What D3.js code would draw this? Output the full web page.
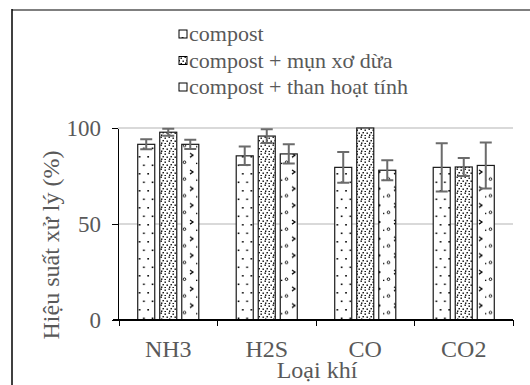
<!DOCTYPE html>
<html>
<head>
<meta charset="utf-8">
<title>hieu-suat</title>
<script src="https://cdn.jsdelivr.net/npm/d3@7"></script>
<style>
  body { margin: 0; background: #fff; }
  svg { display: block; }
  .axis path, .axis line { stroke: #000; shape-rendering: crispEdges; }
  .grid line { stroke: #d9d9d9; stroke-width: 1.5px; shape-rendering: crispEdges; }
  .err { stroke: #6b6b6b; stroke-width: 2px; fill: none; }
  .bar { stroke: #1a1a1a; stroke-width: 1.2px; }
</style>
</head>
<body>
<svg width="530" height="385"></svg>
<script>
// data
var categories = ["NH3", "H2S", "CO", "CO2"];
var seriesNames = ["compost", "compost + mụn xơ dừa", "compost + than hoạt tính"];
var compostVals = [91.5, 85.5, 79.5, 79.5];
var compostErr = [2.6, 4.8, 8.0, 12.6];
var munVals = [97.8, 95.8, 100, 79.7];
var munErr = [1.8, 3.6, 0, 4.7];
var thanVals = [91.5, 86.5, 78, 80.5];
var thanErr = [2.4, 5.0, 5.2, 12.0];
var yTicks = [0, 50, 100];

var allVals = [compostVals, munVals, thanVals];
var allErr = [compostErr, munErr, thanErr];
var patIds = ["p-compost", "p-mun", "p-than"];
var serif = "'Liberation Serif', 'Times New Roman', Times, serif";

var svg = d3.select("svg");

// frame lines
svg.append("line").attr("x1", 12).attr("x2", 530).attr("y1", 10).attr("y2", 10)
  .attr("stroke", "#7f7f7f").attr("stroke-width", 2);
svg.append("line").attr("x1", 12).attr("x2", 12).attr("y1", 9).attr("y2", 385)
  .attr("stroke", "#000").attr("stroke-width", 1.5);

// patterns
var defs = svg.append("defs");
var p1 = defs.append("pattern").attr("id", "p-compost").attr("patternUnits", "userSpaceOnUse")
  .attr("width", 8.6).attr("height", 17);
p1.append("rect").attr("width", 8.6).attr("height", 17).attr("fill", "#fff");
[[1.2, 3], [5.5, 11.5]].forEach(function(d) {
  p1.append("rect").attr("x", d[0]).attr("y", d[1]).attr("width", 1.6).attr("height", 1.6).attr("fill", "#000");
});

var p2 = defs.append("pattern").attr("id", "p-mun").attr("patternUnits", "userSpaceOnUse")
  .attr("width", 8).attr("height", 8);
p2.append("rect").attr("width", 8).attr("height", 8).attr("fill", "#fff");
[[0.5, 0.5], [4.5, 1.5], [2.5, 4], [6.5, 4.5], [1, 6.5], [4.5, 7]].forEach(function(d) {
  p2.append("rect").attr("x", d[0]).attr("y", d[1]).attr("width", 1.4).attr("height", 1.4).attr("fill", "#000");
});

var p3 = defs.append("pattern").attr("id", "p-than").attr("patternUnits", "userSpaceOnUse")
  .attr("width", 17).attr("height", 16.7);
p3.append("rect").attr("width", 17).attr("height", 16.7).attr("fill", "#fff");
p3.append("path").attr("d", "M3,3 L6,5 L3,7").attr("fill", "none").attr("stroke", "#000").attr("stroke-width", 1.2);
p3.append("circle").attr("cx", 14.5).attr("cy", 12).attr("r", 1.3).attr("fill", "none").attr("stroke", "#000").attr("stroke-width", 0.9);
p3.append("rect").attr("x", 9).attr("y", 12.5).attr("width", 1.3).attr("height", 1.3).attr("fill", "#000");

// scales
var x = d3.scaleBand().domain(categories).range([119, 513]).paddingInner(0).paddingOuter(0);
var xs = d3.scaleBand().domain(d3.range(3)).range([0, x.bandwidth()])
  .paddingInner(0.227).paddingOuter(0.85);
var y = d3.scaleLinear().domain([0, 100]).range([320, 128]);

// grid
svg.append("g").attr("class", "grid")
  .selectAll("line").data(yTicks.filter(function(d) { return d > 0; })).enter()
  .append("line")
  .attr("x1", 118).attr("x2", 513)
  .attr("y1", function(d) { return y(d); }).attr("y2", function(d) { return y(d); });

// bars
var series = svg.append("g");
allVals.forEach(function(vals, s) {
  var g = series.append("g");
  g.selectAll("rect").data(vals).enter().append("rect")
    .attr("class", "bar")
    .attr("x", function(d, i) { return x(categories[i]) + xs(s); })
    .attr("y", function(d) { return y(d); })
    .attr("width", xs.bandwidth())
    .attr("height", function(d) { return y(0) - y(d); })
    .attr("fill", "url(#" + patIds[s] + ")");
});

// error bars
allVals.forEach(function(vals, s) {
  var eg = svg.append("g").attr("class", "err");
  vals.forEach(function(v, i) {
    var e = allErr[s][i];
    if (!e) return;
    var cx = x(categories[i]) + xs(s) + xs.bandwidth() / 2;
    eg.append("path").attr("d",
      "M" + cx + "," + y(v + e) + "V" + y(v - e) +
      "M" + (cx - 6) + "," + y(v + e) + "H" + (cx + 6) +
      "M" + (cx - 6) + "," + y(v - e) + "H" + (cx + 6));
  });
});

// axes
var yAxis = svg.append("g").attr("class", "axis")
  .attr("transform", "translate(118,0)")
  .call(d3.axisLeft(y).tickValues(yTicks).tickSize(6).tickPadding(11).tickSizeOuter(0));
yAxis.selectAll("text").style("font-family", serif).style("font-size", "23px").style("fill", "#595959");
yAxis.select(".domain").attr("stroke-width", 1.5);

var xAxis = svg.append("g").attr("class", "axis")
  .attr("transform", "translate(0,320)");
xAxis.append("line").attr("x1", 113).attr("x2", 513).attr("stroke", "#000").attr("stroke-width", 1.5);
xAxis.selectAll(".tk").data(d3.range(categories.length + 1)).enter().append("line")
  .attr("class", "tk")
  .attr("x1", function(i) { return x.range()[0] + i * x.step(); })
  .attr("x2", function(i) { return x.range()[0] + i * x.step(); })
  .attr("y1", 0).attr("y2", 6).attr("stroke", "#000");
xAxis.selectAll(".lbl").data(categories).enter().append("text")
  .attr("class", "lbl")
  .attr("x", function(d) { return x(d) + x.bandwidth() / 2; })
  .attr("y", 37)
  .attr("text-anchor", "middle")
  .style("font-family", serif).style("font-size", "24px").style("fill", "#595959")
  .text(function(d) { return d; });

// titles
svg.append("text")
  .attr("x", 317).attr("y", 378).attr("text-anchor", "middle")
  .style("font-family", serif).style("font-size", "24px").style("fill", "#595959")
  .text("Loại khí");
svg.append("text")
  .attr("transform", "translate(59,245) rotate(-90)")
  .attr("text-anchor", "middle")
  .style("font-family", serif).style("font-size", "24px").style("fill", "#595959")
  .text("Hiệu suất xử lý (%)");

// legend
var lg = svg.append("g");
seriesNames.forEach(function(name, s) {
  var ly = 34 + s * 26.5;
  lg.append("rect").attr("x", 179).attr("y", ly - 4).attr("width", 8).attr("height", 8)
    .attr("fill", "url(#" + patIds[s] + ")").attr("stroke", "#000").attr("stroke-width", 1);
  lg.append("text").attr("x", 189).attr("y", ly + 7)
    .style("font-family", serif).style("font-size", "22px").style("fill", "#595959")
    .text(name);
});
</script>
</body>
</html>
